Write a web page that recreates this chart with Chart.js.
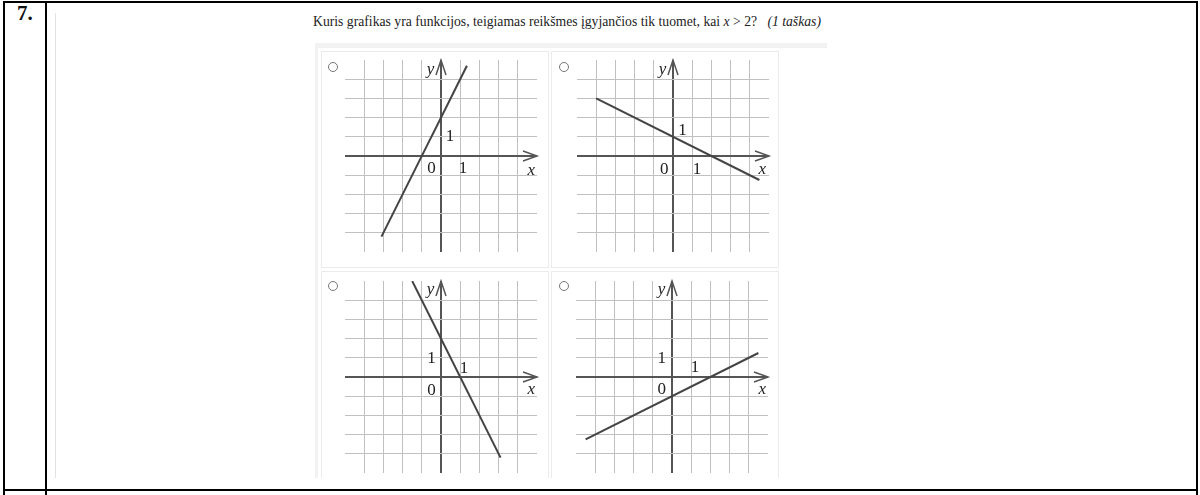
<!DOCTYPE html>
<html>
<head>
<meta charset="utf-8">
<script src="https://cdn.jsdelivr.net/npm/chart.js@4.4.0/dist/chart.umd.min.js"></script>
<style>
    body { margin: 0; width: 1200px; height: 495px; background: #fff; position: relative; overflow: hidden;
           font-family: "Liberation Serif", "DejaVu Serif", serif; color: #222; }
    .rule { position: absolute; background: #000; }
    .num { position: absolute; left: 17px; top: 1px; font-size: 21px; font-weight: bold; color: #111; }
    .question { position: absolute; left: 313px; top: 14px; font-size: 13.7px; white-space: nowrap; color: #222; }
    .question i { font-style: italic; }
    .gray { position: absolute; background: #f2f2f2; }
    .panel { position: absolute; border: 1px solid #ebebeb; box-sizing: border-box; background: #fff; }
    .radio { position: absolute; width: 8px; height: 8px; border: 1px solid #777; border-radius: 50%; }
    canvas { position: absolute; }
</style>
</head>
<body>

<!-- table borders -->
<div class="rule" style="left:3px;top:1px;width:1195px;height:2px"></div>
<div class="rule" style="left:3px;top:489px;width:1195px;height:2px"></div>
<div class="rule" style="left:3px;top:1px;width:2px;height:494px"></div>
<div class="rule" style="left:45px;top:1px;width:2px;height:494px"></div>
<div class="rule" style="left:1196px;top:1px;width:2px;height:494px"></div>
<div style="position:absolute;left:55px;top:13px;width:1px;height:465px;background:#e2e2e2"></div>

<div class="num">7.</div>
<div class="question">Kuris grafikas yra funkcijos, teigiamas reikšmes įgyjančios tik tuomet, kai <i>x</i> &gt; 2? &nbsp;&nbsp;<i>(1 taškas)</i></div>

<!-- answer container -->
<div class="gray" style="left:315px;top:43px;width:512px;height:5px"></div>
<div class="gray" style="left:315px;top:43px;width:3px;height:435px"></div>

<div class="panel" style="left:321px;top:51px;width:228px;height:217px"></div>
<div class="panel" style="left:551px;top:51px;width:228px;height:217px"></div>
<div class="panel" style="left:321px;top:271px;width:228px;height:207px;border-bottom:none"></div>
<div class="panel" style="left:551px;top:271px;width:228px;height:207px;border-bottom:none"></div>

<div class="radio" style="left:328px;top:62px"></div>
<div class="radio" style="left:559px;top:62px"></div>
<div class="radio" style="left:328px;top:281px"></div>
<div class="radio" style="left:559px;top:281px"></div>

<canvas id="chartA" width="226" height="215" style="left:322px;top:52px"></canvas>
<canvas id="chartB" width="226" height="215" style="left:552px;top:52px"></canvas>
<canvas id="chartC" width="226" height="206" style="left:322px;top:272px"></canvas>
<canvas id="chartD" width="226" height="206" style="left:552px;top:272px"></canvas>

<script>
// ============================================
// Data
// ============================================

const axisMin = -5;
const axisMax = 5;
const gridValues = [-5, -4, -3, -2, -1, 0, 1, 2, 3, 4, 5];

// line endpoints (x values, y values)
const lineAX = [-3.1, 1.35];
const lineAY = [-4.2, 4.7];

const lineBX = [-4, 4.5];
const lineBY = [3, -1.25];

const lineCX = [-1.5, 3.1];
const lineCY = [5, -4.2];

const lineDX = [-4.5, 4.5];
const lineDY = [-3.25, 1.25];

// axis labels: text, and where they sit in graph units
const labelsAText = ['y', 'x', '0', '1', '1'];
const labelsAX = [-0.55, 4.7, -0.5, 1.15, 0.47];
const labelsAY = [4.5, -0.75, -0.65, -0.65, 1.0];

const labelsBText = ['y', 'x', '0', '1', '1'];
const labelsBX = [-0.55, 4.65, -0.45, 1.25, 0.5];
const labelsBY = [4.5, -0.7, -0.7, -0.7, 1.35];

const labelsCText = ['y', 'x', '0', '1', '1'];
const labelsCX = [-0.55, 4.7, -0.5, 1.2, -0.5];
const labelsCY = [4.55, -0.65, -0.68, 0.42, 0.94];

const labelsDText = ['y', 'x', '0', '1', '1'];
const labelsDX = [-0.55, 4.7, -0.53, 1.2, -0.53];
const labelsDY = [4.55, -0.65, -0.63, 0.48, 0.97];

// ============================================
// Styles
// ============================================

const gridColor = '#c0c0c0';
const axisColor = '#555';
const lineColor = '#444';

// arrows on the axes + the little text labels
const axisDecor = {
    id: 'axisDecor',
    afterDatasetsDraw(chart, args, opts) {
        const ctx = chart.ctx;
        const xs = chart.scales.x;
        const ys = chart.scales.y;
        const ox = xs.getPixelForValue(0);
        const oy = ys.getPixelForValue(0);
        const right = xs.getPixelForValue(axisMax);
        const top = ys.getPixelForValue(axisMax);

        ctx.save();
        ctx.strokeStyle = axisColor;
        ctx.lineWidth = 1.5;
        ctx.beginPath();
        ctx.moveTo(right - 14, oy - 5);
        ctx.lineTo(right, oy);
        ctx.lineTo(right - 14, oy + 5);
        ctx.moveTo(ox - 5, top + 15);
        ctx.lineTo(ox, top);
        ctx.lineTo(ox + 5, top + 15);
        ctx.stroke();

        ctx.fillStyle = '#222';
        ctx.textAlign = 'center';
        ctx.textBaseline = 'middle';
        for (let i = 0; i < opts.text.length; i++) {
            const t = opts.text[i];
            const italic = (t === 'x' || t === 'y');
            ctx.font = (italic ? 'italic ' : '') + '17px "Liberation Serif"';
            ctx.fillText(t, xs.getPixelForValue(opts.xs[i]), ys.getPixelForValue(opts.ys[i]));
        }
        ctx.restore();
    }
};

function gridLine(c) {
    if (!c.tick) return gridColor;
    if (c.tick.value === 0) return axisColor;
    if (Math.abs(c.tick.value) === axisMax) return 'rgba(0,0,0,0)';
    return gridColor;
}

function gridWidth(c) {
    return (c.tick && c.tick.value === 0) ? 2 : 1;
}

function makeScale() {
    return {
        type: 'linear',
        min: axisMin,
        max: axisMax,
        afterBuildTicks: function(scale) {
            scale.ticks = gridValues.map(v => ({ value: v }));
        },
        ticks: { display: false },
        border: { display: false },
        grid: { color: gridLine, lineWidth: gridWidth, drawTicks: false }
    };
}

function renderGraph(id, lx, ly, text, tx, ty, pad) {
    const points = [];
    for (let i = 0; i < lx.length; i++) {
        points.push({ x: lx[i], y: ly[i] });
    }

    new Chart(document.getElementById(id), {
        type: 'scatter',
        data: {
            datasets: [{
                data: points,
                showLine: true,
                borderColor: lineColor,
                borderWidth: 2,
                pointRadius: 0
            }]
        },
        options: {
            responsive: false,
            animation: false,
            layout: { padding: pad },
            plugins: {
                legend: { display: false },
                tooltip: { enabled: false },
                axisDecor: { text: text, xs: tx, ys: ty }
            },
            scales: { x: makeScale(), y: makeScale() }
        },
        plugins: [axisDecor]
    });
}

renderGraph('chartA', lineAX, lineAY, labelsAText, labelsAX, labelsAY, { left: 23, right: 11, top: 8, bottom: 15 });
renderGraph('chartB', lineBX, lineBY, labelsBText, labelsBX, labelsBY, { left: 25, right: 9, top: 8, bottom: 15 });
renderGraph('chartC', lineCX, lineCY, labelsCText, labelsCX, labelsCY, { left: 23, right: 11, top: 9, bottom: 5 });
renderGraph('chartD', lineDX, lineDY, labelsDText, labelsDX, labelsDY, { left: 24, right: 10, top: 9, bottom: 5 });
</script>
</body>
</html>
